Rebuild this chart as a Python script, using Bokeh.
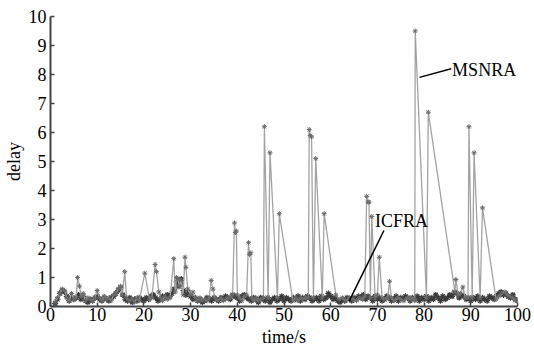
from bokeh.plotting import figure
from bokeh.models import Range1d, FixedTicker
from bokeh.core.properties import value
from bokeh.embed import file_html
from bokeh.resources import INLINE

# ---------------- data ----------------
MSNRA_T = [1.0, 1.5, 2.0, 2.5, 3.0, 3.5, 4.0, 4.5, 5.0, 5.5, 5.8, 6.2, 6.6, 7.0, 7.5,
           8.0, 8.5, 9.0, 9.5, 10.0, 10.5, 11.0, 11.5, 12.0, 12.5, 13.0, 13.5, 14.0,
           14.5, 15.0, 15.4, 15.9, 16.3, 16.8, 17.5, 18.0, 18.5, 19.0, 20.2, 21.2,
           21.7, 22.4, 22.7, 23.2, 23.6, 24.0, 24.5, 25.0, 25.6, 26.4, 26.7, 27.0,
           27.3, 27.6, 28.0, 28.4, 28.8, 29.0, 29.4, 30.0, 30.5, 31.0, 31.5, 32.0,
           32.5, 33.0, 33.5, 34.0, 34.4, 34.8, 35.2, 35.8, 36.5, 37.0, 37.5, 38.0,
           38.5, 39.0, 39.4, 39.6, 39.8, 40.0, 40.5, 41.0, 41.5, 42.0, 42.4, 42.6,
           42.9, 43.1, 43.5, 44.0, 44.5, 45.0, 45.6, 45.8, 46.6, 47.0, 48.6, 49.0,
           51.9, 52.5, 53.0, 53.5, 54.0, 54.6, 55.2, 55.4, 55.6, 55.9, 56.3, 56.8,
           58.2, 58.6, 61.1, 61.8, 62.5, 63.2, 64.0, 64.8, 65.5, 66.2, 66.8, 67.3,
           67.7, 68.0, 68.2, 68.5, 68.8, 69.5, 70.0, 70.4, 71.0, 71.6, 72.2, 72.6,
           73.0, 73.6, 74.3, 75.0, 75.7, 76.4, 77.0, 77.6, 78.0, 78.1, 80.5, 80.9,
           86.6, 86.8, 87.3, 87.8, 88.3, 88.8, 89.4, 89.6, 90.3, 90.7, 92.0, 92.5,
           95.4, 96.0, 96.6, 97.3, 97.8, 98.4, 99.0, 99.6]
MSNRA_Y = [0.15, 0.30, 0.45, 0.60, 0.55, 0.30, 0.20, 0.45, 0.25, 0.30, 1.00, 0.70, 0.35, 0.45, 0.20,
           0.30, 0.25, 0.20, 0.30, 0.55, 0.30, 0.20, 0.35, 0.25, 0.30, 0.20, 0.40, 0.45,
           0.60, 0.70, 0.40, 1.20, 0.30, 0.20, 0.25, 0.15, 0.30, 0.20, 1.15, 0.25,
           0.30, 1.45, 1.20, 0.50, 0.30, 0.20, 0.35, 0.25, 0.30, 1.65, 0.50, 1.00,
           0.95, 0.70, 0.90, 0.40, 1.70, 1.35, 0.60, 0.40, 0.50, 0.30, 0.20, 0.30,
           0.20, 0.25, 0.20, 0.30, 0.90, 0.60, 0.30, 0.20, 0.30, 0.20, 0.25, 0.30,
           0.30, 0.40, 2.88, 2.55, 2.60, 0.40, 0.30, 0.20, 0.35, 0.40, 2.20, 1.80,
           1.85, 0.30, 0.20, 0.30, 0.20, 0.25, 0.30, 6.20, 0.30, 5.30, 0.30, 3.20,
           0.20, 0.30, 0.20, 0.30, 0.25, 0.30, 0.30, 6.10, 5.90, 5.85, 0.30, 5.10,
           0.30, 3.20, 0.40, 0.25, 0.30, 0.20, 0.30, 0.25, 0.20, 0.30, 0.25, 0.35,
           3.80, 3.60, 3.60, 0.30, 3.10, 0.30, 0.40, 1.70, 0.30, 0.25, 0.30, 0.87,
           0.30, 0.20, 0.30, 0.25, 0.20, 0.30, 0.25, 0.30, 0.20, 9.50, 0.30, 6.70,
           0.50, 0.93, 0.40, 0.45, 0.67, 0.30, 0.30, 6.20, 0.30, 5.30, 0.30, 3.40,
           0.25, 0.35, 0.45, 0.50, 0.40, 0.35, 0.30, 0.20]

ICFRA_T = [1.0, 1.5, 2.0, 2.5, 3.0, 3.5, 4.0, 4.5, 5.0,
           5.5, 6.0, 6.5, 7.0, 7.5, 8.0, 8.5, 9.0, 9.5, 10.0,
           10.5, 11.0, 11.5, 12.0, 12.5, 13.0, 13.5, 14.0, 14.5, 15.0,
           15.5, 16.0, 16.5, 17.0, 17.5, 18.0, 18.5, 19.0, 19.5, 20.0,
           20.5, 21.0, 21.5, 22.0, 22.5, 23.0, 23.5, 24.0, 24.5, 25.0,
           25.5, 26.0, 26.5, 27.0, 27.5, 28.0, 28.5, 29.0, 29.5, 30.0,
           30.5, 31.0, 31.5, 32.0, 32.5, 33.0, 33.5, 34.0, 34.5, 35.0,
           35.5, 36.0, 36.5, 37.0, 37.5, 38.0, 38.5, 39.0, 39.5, 40.0,
           40.5, 41.0, 41.5, 42.0, 42.5, 43.0, 43.5, 44.0, 44.5, 45.0,
           45.5, 46.0, 46.5, 47.0, 47.5, 48.0, 48.5, 49.0, 49.5, 50.0,
           50.5, 51.0, 51.5, 52.0, 52.5, 53.0, 53.5, 54.0, 54.5, 55.0,
           55.5, 56.0, 56.5, 57.0, 57.5, 58.0, 58.5, 59.0, 59.5, 60.0,
           60.5, 61.0, 61.5, 62.0, 62.5, 63.0, 63.5, 64.0, 64.5, 65.0,
           65.5, 66.0, 66.5, 67.0, 67.5, 68.0, 68.5, 69.0, 69.5, 70.0,
           70.5, 71.0, 71.5, 72.0, 72.5, 73.0, 73.5, 74.0, 74.5, 75.0,
           75.5, 76.0, 76.5, 77.0, 77.5, 78.0, 78.5, 79.0, 79.5, 80.0,
           80.5, 81.0, 81.5, 82.0, 82.5, 83.0, 83.5, 84.0, 84.5, 85.0,
           85.5, 86.0, 86.5, 87.0, 87.5, 88.0, 88.5, 89.0, 89.5, 90.0,
           90.5, 91.0, 91.5, 92.0, 92.5, 93.0, 93.5, 94.0, 94.5, 95.0,
           95.5, 96.0, 96.5, 97.0, 97.5, 98.0, 98.5, 99.0, 99.5, 100.0]
ICFRA_Y = [0.10, 0.25, 0.45, 0.55, 0.50, 0.35, 0.20, 0.30, 0.25,
           0.30, 0.40, 0.25, 0.35, 0.20, 0.15, 0.25, 0.20, 0.30, 0.35,
           0.25, 0.20, 0.30, 0.25, 0.20, 0.30, 0.35, 0.45, 0.55, 0.65,
           0.40, 0.25, 0.20, 0.30, 0.15, 0.25, 0.20, 0.30, 0.25, 0.20,
           0.30, 0.25, 0.35, 0.40, 0.30, 0.20, 0.25, 0.35, 0.30, 0.40,
           0.35, 0.45, 0.60, 0.85, 0.70, 0.95, 0.55, 0.40, 0.50, 0.35,
           0.25, 0.30, 0.20, 0.25, 0.15, 0.20, 0.30, 0.25, 0.20, 0.30,
           0.25, 0.20, 0.30, 0.25, 0.35, 0.30, 0.25, 0.40, 0.35, 0.30,
           0.20, 0.35, 0.40, 0.30, 0.25, 0.20, 0.30, 0.25, 0.15, 0.30,
           0.25, 0.20, 0.30, 0.15, 0.25, 0.30, 0.20, 0.25, 0.35, 0.20,
           0.30, 0.25, 0.20, 0.30, 0.25, 0.35, 0.20, 0.30, 0.25, 0.35,
           0.30, 0.20, 0.25, 0.30, 0.20, 0.35, 0.25, 0.30, 0.45, 0.35,
           0.25, 0.30, 0.20, 0.15, 0.25, 0.20, 0.30, 0.25, 0.20, 0.30,
           0.25, 0.35, 0.30, 0.40, 0.25, 0.35, 0.30, 0.20, 0.35, 0.25,
           0.30, 0.20, 0.25, 0.35, 0.30, 0.20, 0.25, 0.35, 0.20, 0.30,
           0.25, 0.35, 0.30, 0.20, 0.30, 0.25, 0.35, 0.20, 0.30, 0.25,
           0.35, 0.20, 0.30, 0.25, 0.40, 0.30, 0.20, 0.35, 0.25, 0.30,
           0.40, 0.35, 0.50, 0.45, 0.30, 0.40, 0.35, 0.25, 0.30, 0.20,
           0.30, 0.25, 0.35, 0.20, 0.30, 0.25, 0.20, 0.35, 0.30, 0.25,
           0.35, 0.45, 0.50, 0.40, 0.45, 0.35, 0.30, 0.40, 0.25, 0.20]

X_TICKS = [0, 10, 20, 30, 40, 50, 60, 70, 80, 90, 100]
Y_TICKS = [0, 1, 2, 3, 4, 5, 6, 7, 8, 9, 10]

# annotation labels and leader lines (data coords)
LABELS = ["MSNRA", "ICFRA"]
LABEL_X = [86.0, 69.5]
LABEL_Y = [8.15, 2.95]
LEADER_X0 = [79.0, 71.4]
LEADER_Y0 = [7.9, 2.62]
LEADER_X1 = [85.8, 64.0]
LEADER_Y1 = [8.2, 0.2]
X_TITLE = "time/s"
Y_TITLE = "delay"

FONT = "Liberation Serif"

p = figure(width=534, height=349, output_backend="svg", toolbar_location=None,
           x_range=Range1d(0, 100), y_range=Range1d(0, 10),
           min_border_left=49, min_border_right=17, min_border_top=16,
           min_border_bottom=43)
p.outline_line_color = None
p.background_fill_color = "white"
p.border_fill_color = "white"
p.xgrid.visible = False
p.ygrid.visible = False

# series
p.line(ICFRA_T, ICFRA_Y, line_color="#4a4a4a", line_width=1.6)
p.scatter(ICFRA_T, ICFRA_Y, marker="asterisk", size=6, line_color="#3a3a3a", line_width=1.2)
p.line(MSNRA_T, MSNRA_Y, line_color="#a3a3a3", line_width=1.3)
p.scatter(MSNRA_T, MSNRA_Y, marker="asterisk", size=5, line_color="#6a6a6a", line_width=1.0)

# annotations
p.segment(LEADER_X0, LEADER_Y0, LEADER_X1, LEADER_Y1, line_color="black", line_width=1.5)
p.text(LABEL_X, LABEL_Y, text=LABELS, text_font=value(FONT), text_font_size="18px",
       text_baseline="middle", text_align="left", text_color="black")

for ax in (p.xaxis[0], p.yaxis[0]):
    ax.axis_line_color = "#444444"
    ax.axis_line_width = 2
    ax.major_tick_line_color = "#444444"
    ax.major_tick_line_width = 1.5
    ax.major_tick_in = 4
    ax.major_tick_out = 0
    ax.minor_tick_line_color = None
    ax.major_label_text_font = FONT
    ax.major_label_text_font_size = "18px"
    ax.major_label_text_color = "black"
    ax.axis_label_text_font = FONT
    ax.axis_label_text_font_size = "18px"
    ax.axis_label_text_font_style = "normal"
    ax.axis_label_text_color = "black"

p.xaxis.ticker = FixedTicker(ticks=X_TICKS)
p.yaxis.ticker = FixedTicker(ticks=Y_TICKS)
p.xaxis.axis_label = X_TITLE
p.yaxis.axis_label = Y_TITLE
p.xaxis.axis_label_standoff = 3
p.yaxis.axis_label_standoff = 2
p.xaxis.major_label_standoff = 1
p.yaxis.major_label_standoff = 4

open("out.html", "w").write(file_html(p, INLINE))
